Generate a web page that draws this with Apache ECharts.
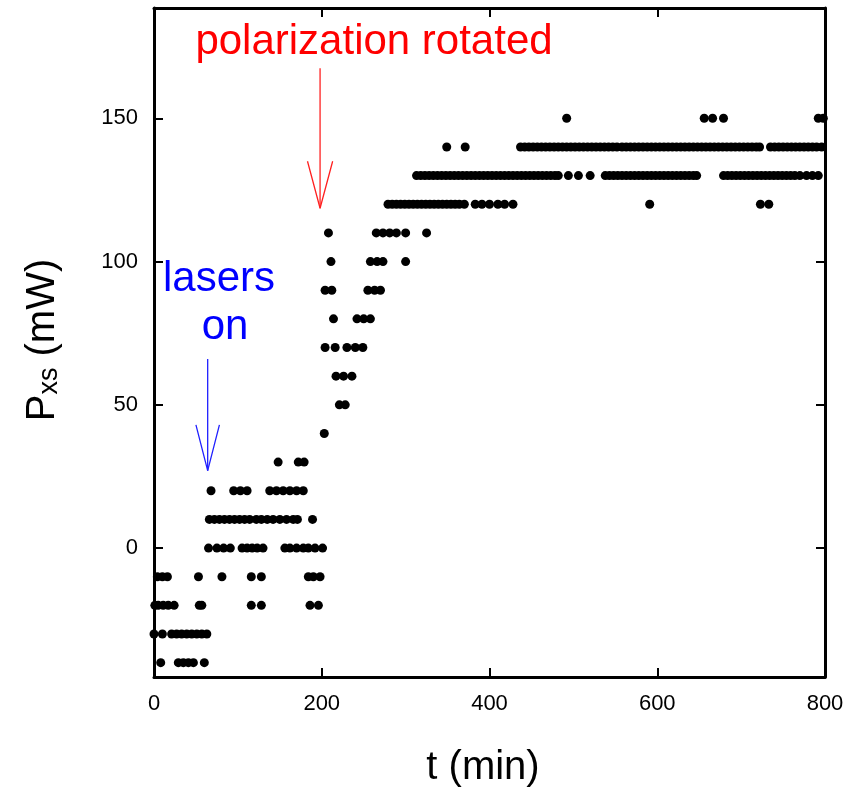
<!DOCTYPE html>
<html><head><meta charset="utf-8">
<script src="https://cdn.jsdelivr.net/npm/echarts@6/dist/echarts.min.js"></script>
<style>html,body{margin:0;padding:0;background:#fff}#c{width:850px;height:794px}</style>
</head><body><div id="c"></div>
<script>
// ---- tick labels ----
const xTickValues = [0, 200, 400, 600, 800];
const yTickValues = [0, 50, 100, 150];

// ---- data: time (min) of each reading, grouped by measured power level (mW) ----
const levels = [-40, -30, -20, -10, 0, 10, 20, 30, 40, 50, 60, 70, 80, 90, 100, 110, 120, 130, 140, 150];
const t_m40 = [8, 29, 35, 41, 47, 60];
const t_m30 = [0, 10, 21, 27, 33, 39, 45, 51, 57, 63];
const t_m20 = [1, 5, 11, 17, 24, 54, 57, 116, 128, 186, 196];
const t_m10 = [4, 10, 16, 53, 81, 116, 128, 184, 190, 198];
const t_0 = [65, 75, 83, 91, 105, 111, 117, 123, 130, 156, 162, 170, 178, 184, 192, 201];
const t_10 = [66, 72, 78, 84, 90, 96, 102, 108, 114, 122, 128, 135, 142, 150, 158, 166, 171, 189];
const t_20 = [68, 95, 103, 111, 138, 146, 154, 162, 170, 178];
const t_30 = [148, 172, 179];
const t_40 = [203];
const t_50 = [221, 228];
const t_60 = [217, 226, 236];
const t_70 = [204, 216, 230, 240, 249];
const t_80 = [214, 242, 250, 258];
const t_90 = [204, 212, 255, 263, 270];
const t_100 = [211, 258, 266, 273, 300];
const t_110 = [208, 265, 273, 281, 289, 300, 325];
const t_120 = [279, 284, 289, 294, 299, 304, 309, 314, 319, 324, 329, 334, 339, 344, 349, 354, 359, 364, 370,
  383, 391, 400, 410, 418, 428, 591, 723, 733];
const t_130 = [313, 318, 323, 328, 333, 338, 343, 348, 353, 358, 363, 368, 373, 378, 383, 388, 393, 398, 403, 408,
  413, 418, 423, 428, 433, 438, 443, 448, 453, 458, 463, 468, 473, 478, 482, 494, 506, 520,
  538, 543, 548, 553, 558, 563, 568, 573, 578, 583, 588, 593, 598, 603, 608, 613, 618, 623, 628, 633, 638, 643, 647,
  679, 684, 689, 694, 699, 704, 709, 714, 719, 724, 729, 734, 739, 744, 749, 754, 759, 764, 770, 778, 785, 792];
const t_140 = [349, 371, 437, 442, 447, 452, 457, 462, 467, 472, 477, 482, 487, 492, 497, 502, 507, 512, 517, 522,
  527, 532, 537, 542, 547, 552, 558, 563, 568, 573, 578, 583, 588, 593, 598, 603, 608, 613, 618, 623, 628, 633,
  638, 643, 648, 653, 658, 663, 668, 673, 678, 683, 688, 693, 698, 703, 708, 713, 718, 722,
  735, 740, 745, 750, 755, 760, 765, 770, 775, 780, 785, 790, 796];
const t_150 = [492, 656, 666, 679, 792, 798];
const timesByLevel = [t_m40, t_m30, t_m20, t_m10, t_0, t_10, t_20, t_30, t_40, t_50, t_60, t_70, t_80, t_90,
  t_100, t_110, t_120, t_130, t_140, t_150];

// ---- annotation arrows (data space) ----
const blueShaft = [[64, 66], [64, 27]];
const blueHead = [[50, 43], [64, 27], [78, 43]];
const redShaft = [[198, 167.5], [198, 118.6]];
const redHead = [[183, 135], [198, 118.6], [213, 135]];

const points = [];
timesByLevel.forEach((ts, i) => ts.forEach(t => points.push([t, levels[i]])));

const FONT = '"Liberation Sans", Arial, Helvetica, sans-serif';
const chart = echarts.init(document.getElementById('c'), null, {renderer: 'canvas'});

const lineStyleAxis = {color: '#000', width: 3};
const tickStyle = {inside: true, length: 9, lineStyle: {color: '#000', width: 2}};
const labelStyle = {fontSize: 22, color: '#000', fontFamily: FONT};

function arrowSeries(data, color) {
  return {type: 'line', data: data, symbol: 'none', silent: true, animation: false,
    lineStyle: {color: color, width: 1.3}, z: 5};
}

chart.setOption({
  animation: false,
  backgroundColor: '#fff',
  grid: {left: 154, right: 25, top: 8, bottom: 117, containLabel: false},
  xAxis: [
    {type: 'value', min: 0, max: 800, interval: 200, position: 'bottom',
      axisLine: {show: true, onZero: false, lineStyle: lineStyleAxis},
      axisTick: tickStyle, splitLine: {show: false},
      axisLabel: Object.assign({margin: 16, showMinLabel: true, showMaxLabel: true,
        customValues: xTickValues}, labelStyle)},
    {type: 'value', min: 0, max: 800, interval: 200, position: 'top',
      axisLine: {show: true, onZero: false, lineStyle: lineStyleAxis},
      axisTick: tickStyle, splitLine: {show: false}, axisLabel: {show: false}}
  ],
  yAxis: [
    {type: 'value', min: -45, max: 188.5, position: 'left',
      axisLine: {show: true, onZero: false, lineStyle: lineStyleAxis},
      axisTick: Object.assign({customValues: yTickValues}, tickStyle),
      splitLine: {show: false},
      axisLabel: Object.assign({margin: 16, customValues: yTickValues}, labelStyle)},
    {type: 'value', min: -45, max: 188.5, position: 'right',
      axisLine: {show: true, onZero: false, lineStyle: lineStyleAxis},
      axisTick: Object.assign({customValues: yTickValues}, tickStyle),
      splitLine: {show: false}, axisLabel: {show: false}}
  ],
  series: [
    {type: 'scatter', data: points, symbol: 'circle', symbolSize: 9,
      itemStyle: {color: '#000', opacity: 1}, z: 3, clip: false},
    arrowSeries(blueShaft, '#2020ff'),
    arrowSeries(blueHead, '#2020ff'),
    arrowSeries(redShaft, '#ff2020'),
    arrowSeries(redHead, '#ff2020')
  ],
  graphic: [
    {type: 'text', x: 374, y: 42, silent: true,
      style: {text: 'polarization rotated', font: '42px ' + FONT, fill: '#ff0000', textAlign: 'center', textVerticalAlign: 'middle'}},
    {type: 'text', x: 219, y: 279, silent: true,
      style: {text: 'lasers', font: '42px ' + FONT, fill: '#0000ff', textAlign: 'center', textVerticalAlign: 'middle'}},
    {type: 'text', x: 225, y: 327, silent: true,
      style: {text: 'on', font: '42px ' + FONT, fill: '#0000ff', textAlign: 'center', textVerticalAlign: 'middle'}},
    {type: 'text', x: 483, y: 768, silent: true,
      style: {text: 't (min)', font: '40px ' + FONT, fill: '#000', textAlign: 'center', textVerticalAlign: 'middle'}},
    {type: 'text', x: 40, y: 340, rotation: Math.PI / 2, silent: true,
      style: {text: '{m|P}{s|xs}{m| (mW)}', textAlign: 'center', textVerticalAlign: 'middle',
        rich: {
          m: {fontSize: 40, fontFamily: FONT, fill: '#000', lineHeight: 46, verticalAlign: 'bottom'},
          s: {fontSize: 27, fontFamily: FONT, fill: '#000', lineHeight: 46, verticalAlign: 'bottom', padding: [12, 0, 0, 0]}
        }}}
  ]
});
</script>
</body></html>
